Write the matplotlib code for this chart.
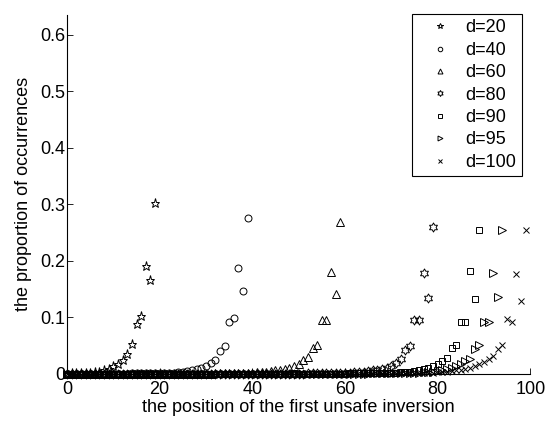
import numpy as np
import matplotlib
matplotlib.use("Agg")
import matplotlib.pyplot as plt
from matplotlib.path import Path

plt.rcParams['font.family'] = ['Liberation Sans', 'DejaVu Sans']
plt.rcParams['font.size'] = 13

# proportion of occurrences at each position (0 .. d-1)
p20 = [0.000, 0.001, 0.001, 0.001, 0.002, 0.002, 0.003, 0.004, 0.006, 0.008,
       0.013, 0.017, 0.024, 0.035, 0.052, 0.088, 0.102, 0.191, 0.166, 0.302]

p40 = [0.000, 0.000, 0.000, 0.000, 0.000, 0.000, 0.000, 0.000, 0.000, 0.000,
       0.000, 0.000, 0.000, 0.000, 0.001, 0.001, 0.001, 0.001, 0.001, 0.001,
       0.001, 0.001, 0.002, 0.002, 0.003, 0.004, 0.005, 0.006, 0.008, 0.011,
       0.014, 0.020, 0.025, 0.041, 0.050, 0.092, 0.098, 0.187, 0.146, 0.276]

p60 = [0.000, 0.000, 0.000, 0.000, 0.000, 0.000, 0.000, 0.000, 0.000, 0.000,
       0.000, 0.000, 0.000, 0.000, 0.000, 0.000, 0.000, 0.000, 0.000, 0.000,
       0.000, 0.000, 0.000, 0.000, 0.000, 0.000, 0.000, 0.000, 0.000, 0.000,
       0.000, 0.000, 0.001, 0.001, 0.001, 0.001, 0.001, 0.001, 0.002, 0.002,
       0.002, 0.003, 0.003, 0.004, 0.005, 0.006, 0.007, 0.009, 0.011, 0.014,
       0.017, 0.025, 0.029, 0.046, 0.051, 0.095, 0.095, 0.180, 0.141, 0.269]

p80 = [0.000, 0.000, 0.000, 0.000, 0.000, 0.000, 0.000, 0.000, 0.000, 0.000,
       0.000, 0.000, 0.000, 0.000, 0.000, 0.000, 0.000, 0.000, 0.000, 0.000,
       0.000, 0.000, 0.000, 0.000, 0.000, 0.000, 0.000, 0.000, 0.000, 0.000,
       0.000, 0.000, 0.000, 0.000, 0.000, 0.000, 0.000, 0.000, 0.000, 0.000,
       0.000, 0.000, 0.000, 0.000, 0.000, 0.000, 0.000, 0.000, 0.000, 0.000,
       0.000, 0.000, 0.001, 0.001, 0.001, 0.001, 0.001, 0.001, 0.001, 0.002,
       0.002, 0.002, 0.003, 0.003, 0.004, 0.005, 0.006, 0.007, 0.009, 0.011,
       0.014, 0.020, 0.027, 0.042, 0.049, 0.095, 0.095, 0.179, 0.135, 0.260]

p90 = [0.000, 0.000, 0.000, 0.000, 0.000, 0.000, 0.000, 0.000, 0.000, 0.000,
       0.000, 0.000, 0.000, 0.000, 0.000, 0.000, 0.000, 0.000, 0.000, 0.000,
       0.000, 0.000, 0.000, 0.000, 0.000, 0.000, 0.000, 0.000, 0.000, 0.000,
       0.000, 0.000, 0.000, 0.000, 0.000, 0.000, 0.000, 0.000, 0.000, 0.000,
       0.000, 0.000, 0.000, 0.000, 0.000, 0.000, 0.000, 0.000, 0.000, 0.000,
       0.000, 0.000, 0.000, 0.000, 0.000, 0.000, 0.000, 0.000, 0.000, 0.000,
       0.000, 0.001, 0.001, 0.001, 0.001, 0.001, 0.001, 0.002, 0.002, 0.002,
       0.002, 0.002, 0.003, 0.004, 0.004, 0.005, 0.007, 0.008, 0.010, 0.013,
       0.017, 0.023, 0.028, 0.045, 0.051, 0.091, 0.091, 0.181, 0.132, 0.254]

p95 = [0.000, 0.000, 0.000, 0.000, 0.000, 0.000, 0.000, 0.000, 0.000, 0.000,
       0.000, 0.000, 0.000, 0.000, 0.000, 0.000, 0.000, 0.000, 0.000, 0.000,
       0.000, 0.000, 0.000, 0.000, 0.000, 0.000, 0.000, 0.000, 0.000, 0.000,
       0.000, 0.000, 0.000, 0.000, 0.000, 0.000, 0.000, 0.000, 0.000, 0.000,
       0.000, 0.000, 0.000, 0.000, 0.000, 0.000, 0.000, 0.000, 0.000, 0.000,
       0.000, 0.000, 0.000, 0.000, 0.000, 0.000, 0.000, 0.000, 0.000, 0.000,
       0.000, 0.000, 0.000, 0.000, 0.000,
       0.000, 0.001, 0.001, 0.001, 0.001, 0.001, 0.001, 0.002, 0.002, 0.002,
       0.002, 0.002, 0.003, 0.003, 0.004, 0.005, 0.006, 0.008, 0.010, 0.013,
       0.017, 0.022, 0.027, 0.044, 0.051, 0.091, 0.091, 0.178, 0.136, 0.254]

p100 = [0.000, 0.000, 0.000, 0.000, 0.000, 0.000, 0.000, 0.000, 0.000, 0.000,
        0.000, 0.000, 0.000, 0.000, 0.000, 0.000, 0.000, 0.000, 0.000, 0.000,
        0.000, 0.000, 0.000, 0.000, 0.000, 0.000, 0.000, 0.000, 0.000, 0.000,
        0.000, 0.000, 0.000, 0.000, 0.000, 0.000, 0.000, 0.000, 0.000, 0.000,
        0.000, 0.000, 0.000, 0.000, 0.000, 0.000, 0.000, 0.000, 0.000, 0.000,
        0.000, 0.000, 0.000, 0.000, 0.000, 0.000, 0.000, 0.000, 0.000, 0.000,
        0.000, 0.000, 0.000, 0.000, 0.000, 0.000, 0.000, 0.000, 0.000, 0.000,
        0.000, 0.001, 0.001, 0.001, 0.001, 0.001, 0.001, 0.002, 0.002, 0.002,
        0.003, 0.003, 0.004, 0.005, 0.006, 0.007, 0.009, 0.011, 0.014, 0.018,
        0.021, 0.026, 0.031, 0.044, 0.051, 0.097, 0.092, 0.177, 0.128, 0.254]

series = [p20, p40, p60, p80, p90, p95, p100]
labels = ['d=20', 'd=40', 'd=60', 'd=80', 'd=90', 'd=95', 'd=100']

# matlab-ish markers: pentagram, circle, triangle, hexagram, square, right triangle, x
hexagram = Path.unit_regular_star(6, innerCircle=1 / np.sqrt(3))
markers = ['*', 'o', '^', hexagram, 's', '>', 'x']
sizes = [6.5, 5, 5.5, 6.5, 4.5, 5.5, 4]

fig = plt.figure(figsize=(5.45, 4.21), dpi=100)
ax = fig.add_axes([0.123, 0.112, 0.85, 0.853])

for vals, lab, m, ms in zip(series, labels, markers, sizes):
    pos = np.arange(len(vals))
    ax.plot(pos, vals, linestyle='none', marker=m, markersize=ms,
            markerfacecolor='none', markeredgecolor='black',
            markeredgewidth=0.7, label=lab, clip_on=False)

ax.set_xlim(0, 100)
ax.set_ylim(0, 0.635)
ax.set_xticks([0, 20, 40, 60, 80, 100])
ax.set_yticks([0, 0.1, 0.2, 0.3, 0.4, 0.5, 0.6])
ax.set_xticklabels(['0', '20', '40', '60', '80', '100'])
ax.set_yticklabels(['0', '0.1', '0.2', '0.3', '0.4', '0.5', '0.6'])
ax.tick_params(direction='in', length=4, width=0.6, labelsize=13)
ax.tick_params(axis='x', pad=5)
ax.tick_params(axis='y', pad=1)
ax.spines['top'].set_visible(False)
ax.spines['right'].set_visible(False)
ax.spines['left'].set_linewidth(0.8)
ax.spines['bottom'].set_linewidth(0.8)

ax.set_xlabel('the position of the first unsafe inversion', fontsize=13, labelpad=1)
ax.set_ylabel('the proportion of occurrences', fontsize=13, labelpad=6)

leg = ax.legend(loc='upper right', bbox_to_anchor=(522 / 545, 1 - 14 / 421),
                bbox_transform=fig.transFigure, fontsize=13, frameon=True,
                fancybox=False, edgecolor='black', framealpha=1,
                handlelength=2.5, handletextpad=0.15, labelspacing=0.3,
                borderpad=0.3, borderaxespad=0, markerscale=0.65)
leg.get_frame().set_linewidth(0.8)

fig.savefig('out.png', dpi=100)
